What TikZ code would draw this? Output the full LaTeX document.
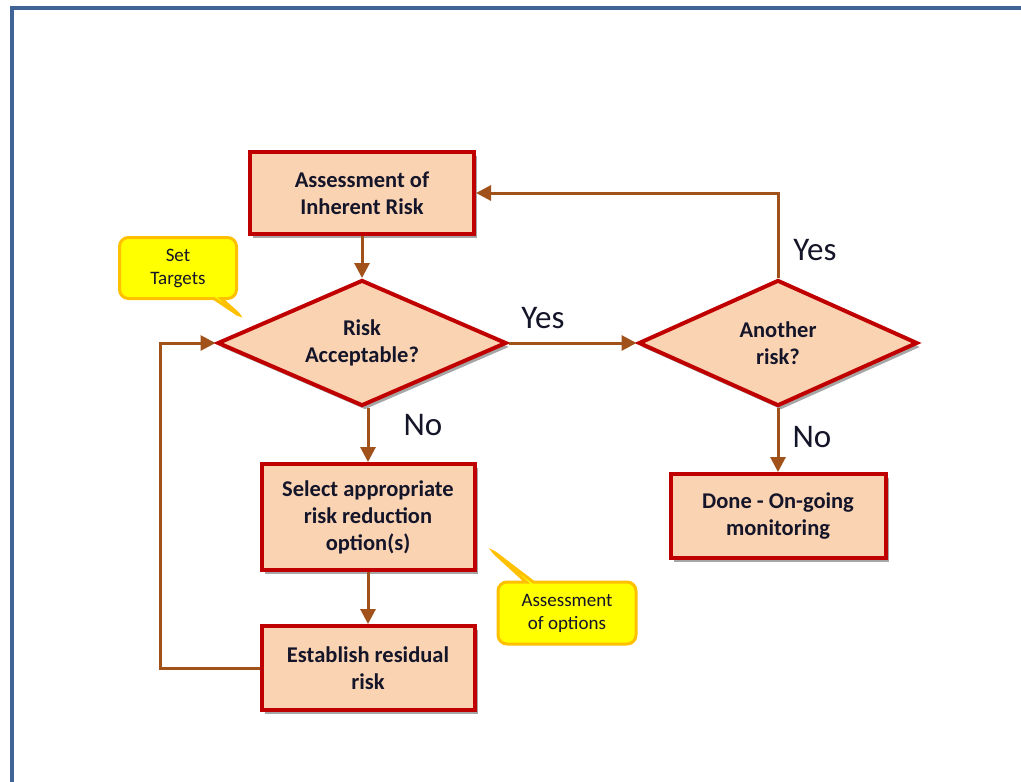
\documentclass[tikz,border=0pt]{standalone}
\usepackage{fontspec}
\setmainfont{Carlito}
\usetikzlibrary{arrows.meta,shapes.geometric,shapes.callouts,shadows}
\definecolor{peach}{HTML}{FAD3B3}
\definecolor{boxred}{HTML}{C00000}
\definecolor{arrbrown}{HTML}{A0521A}
\definecolor{frameblue}{HTML}{3F6495}
\definecolor{callfill}{HTML}{FFFF00}
\definecolor{calledge}{HTML}{FFC000}
\definecolor{txt}{HTML}{15152A}
\begin{document}
\begin{tikzpicture}[x=1pt,y=-1pt,
  shad/.style={drop shadow={shadow xshift=3pt,shadow yshift=-4pt,fill=black,opacity=0.35}},
  procbox/.style={rectangle,draw=boxred,line width=4pt,fill=peach,align=center,
    font=\fontsize{22.5}{27}\selectfont\bfseries,text=txt,inner sep=0pt,shad},
  decision/.style={diamond,aspect=2.25,draw=boxred,line width=4pt,fill=peach,align=center,
    font=\fontsize{22.5}{27}\selectfont\bfseries,text=txt,inner sep=0pt,shad},
  note/.style={rectangle callout,draw=calledge,line width=3pt,fill=callfill,rounded corners=9pt,
    align=center,font=\fontsize{19}{23}\selectfont,text=txt,inner sep=0pt},
  lbl/.style={font=\fontsize{33}{36}\selectfont,text=txt,inner sep=0pt},
  conn/.style={draw=arrbrown,line width=3pt},
  arr/.style={conn,-{Triangle[length=15pt,width=15pt]}}
]
\useasboundingbox (0,0) rectangle (1021,782);
\fill[white] (0,0) rectangle (1021,782);
\draw[frameblue,line width=3.5pt] (1030,8) -- (12,8) -- (12,800);

\node[procbox,minimum width=224pt,minimum height=82pt] (b1) at (362,193) {Assessment of\\Inherent Risk};
\node[decision,minimum width=289pt,minimum height=126pt] (d1) at (362,343) {Risk\\Acceptable?};
\node[decision,minimum width=279pt,minimum height=126pt] (d2) at (778,343) {Another\\risk?};
\node[procbox,minimum width=213pt,minimum height=106pt] (b2) at (368,517) {Select appropriate\\risk reduction\\option(s)};
\node[procbox,minimum width=213pt,minimum height=84pt] (b3) at (368,668) {Establish residual\\risk};
\node[procbox,minimum width=215pt,minimum height=84pt] (b4) at (778,516) {Done - On-going\\monitoring};

\node[note,minimum width=117pt,minimum height=61pt,callout absolute pointer={(243,318)}] (c1) at (178,268) {Set\\Targets};
\node[note,minimum width=138pt,minimum height=62pt,callout absolute pointer={(490,549)}] (c2) at (567,613) {Assessment\\of options};

\coordinate (lp) at (160,0);
\draw[arr] (b1.south) -- (d1.north);
\draw[arr] (d1.east) -- (d2.west);
\draw[arr] (b2.north |- d1.south) -- (b2.north);
\draw[arr] (b2.south) -- (b3.north);
\draw[arr] (b3.west) -- (b3.west -| lp) |- (d1.west);
\draw[arr] (d2.north) |- (b1.east);
\draw[arr] (d2.south) -- (b4.north);

\node[lbl] (y1) at (543,318) {Yes};
\node[lbl] (n1) at (423,425) {No};
\node[lbl] (y2) at (815,250) {Yes};
\node[lbl] (n2) at (812,437) {No};
\end{tikzpicture}
\end{document}
